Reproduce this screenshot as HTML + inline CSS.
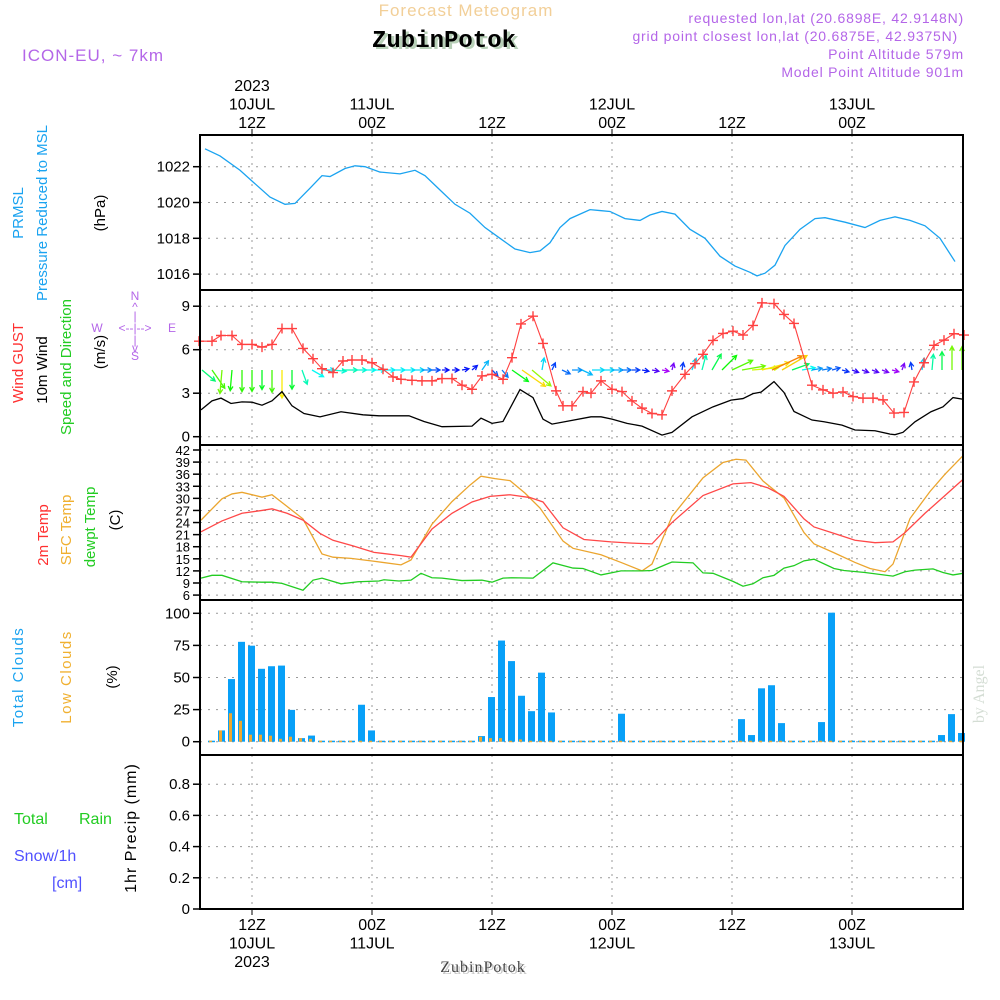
<!DOCTYPE html>
<html><head><meta charset="utf-8"><style>
html,body{margin:0;padding:0;background:#fff;}
svg{display:block;font-family:"Liberation Sans",sans-serif;}
</style></head><body>
<svg id="chart" width="1000" height="1000" viewBox="0 0 1000 1000" xmlns="http://www.w3.org/2000/svg">
<rect x="0" y="0" width="1000" height="1000" fill="#fff"/>
<text x="466" y="16" font-size="17" fill="#f2cf98" text-anchor="middle" letter-spacing="1">Forecast Meteogram</text>
<text x="964" y="23" font-size="14" fill="#b466e8" text-anchor="end" letter-spacing="0.8">requested lon,lat (20.6898E, 42.9148N)</text>
<text x="958" y="41" font-size="14" fill="#b466e8" text-anchor="end" letter-spacing="0.8">grid point closest lon,lat (20.6875E, 42.9375N)</text>
<text x="447" y="49" font-size="24" font-weight="bold" fill="#b8d0b8" text-anchor="middle" font-family="Liberation Mono, monospace">ZubinPotok</text>
<text x="444" y="47" font-size="24" font-weight="bold" fill="#000" text-anchor="middle" font-family="Liberation Mono, monospace">ZubinPotok</text>
<text x="964" y="59" font-size="14" fill="#b466e8" text-anchor="end" letter-spacing="0.8">Point Altitude 579m</text>
<text x="964" y="77" font-size="14" fill="#b466e8" text-anchor="end" letter-spacing="0.8">Model Point Altitude 901m</text>
<text x="22" y="61" font-size="17" fill="#b466e8" letter-spacing="1">ICON-EU, ~ 7km</text>
<text transform="translate(984,694) rotate(-90)" font-size="16" fill="#d4ddd4" text-anchor="middle" font-family="Liberation Serif, serif">by Angel</text>
<text x="485" y="974" font-size="16" fill="#c8c8c8" text-anchor="middle" letter-spacing="1" font-family="Liberation Serif, serif">ZubinPotok</text>
<text x="483" y="972" font-size="16" fill="#444" text-anchor="middle" letter-spacing="1" font-family="Liberation Serif, serif">ZubinPotok</text>

<!-- left labels -->
<text transform="translate(23,213) rotate(-90)" font-size="15" fill="#1aa3f0" text-anchor="middle">PRMSL</text>
<text transform="translate(47,213) rotate(-90)" font-size="15" fill="#1aa3f0" text-anchor="middle">Pressure Reduced to MSL</text>
<text transform="translate(105,213) rotate(-90)" font-size="15" fill="#000" text-anchor="middle">(hPa)</text>
<text transform="translate(23,363) rotate(-90)" font-size="15" fill="#ff3030" text-anchor="middle">Wind GUST</text>
<text transform="translate(47,370) rotate(-90)" font-size="15" fill="#000" text-anchor="middle">10m Wind</text>
<text transform="translate(71,367) rotate(-90)" font-size="15" fill="#22cc22" text-anchor="middle">Speed and Direction</text>
<text transform="translate(105,352) rotate(-90)" font-size="15" fill="#000" text-anchor="middle">(m/s)</text>
<g font-size="12" fill="#b466e8" text-anchor="middle">
<text x="135" y="300">N</text><text x="135" y="311">^</text><text x="135" y="320">|</text>
<text x="97" y="332">W</text><text x="135" y="332">&lt;--|--&gt;</text><text x="172" y="332">E</text>
<text x="135" y="344">|</text><text x="135" y="352">v</text><text x="135" y="360">S</text>
</g>
<text transform="translate(48,535) rotate(-90)" font-size="15" fill="#ff3030" text-anchor="middle">2m Temp</text>
<text transform="translate(71,530) rotate(-90)" font-size="15" fill="#f0b030" text-anchor="middle">SFC Temp</text>
<text transform="translate(95,527) rotate(-90)" font-size="15" fill="#22cc22" text-anchor="middle">dewpt Temp</text>
<text transform="translate(120,520) rotate(-90)" font-size="15" fill="#000" text-anchor="middle">(C)</text>
<text transform="translate(23,677) rotate(-90)" font-size="15" fill="#1aa3f0" text-anchor="middle" letter-spacing="1.5">Total Clouds</text>
<text transform="translate(71,677) rotate(-90)" font-size="15" fill="#f0b030" text-anchor="middle" letter-spacing="1.5">Low Clouds</text>
<text transform="translate(117,677) rotate(-90)" font-size="15" fill="#000" text-anchor="middle">(%)</text>
<text x="14" y="824" font-size="16" fill="#22cc22">Total</text>
<text x="79" y="824" font-size="16" fill="#22cc22">Rain</text>
<text x="14" y="861" font-size="16" fill="#5050ff">Snow/1h</text>
<text x="52" y="888" font-size="16" fill="#5050ff">[cm]</text>
<text transform="translate(136,828) rotate(-90)" font-size="16" fill="#000" text-anchor="middle" letter-spacing="1">1hr Precip (mm)</text>

<g id="plot"></g>
</svg>
<script>
// ---------- data ----------
const presHours=[7.3,8.8,10.8,13.8,15.3,16.3,17.8,19,19.8,21.3,22.3,23.3,24.8,26.8,28.3,29.3,30.8,32.3,33.8,35.3,36.8,38.3,39.8,40.8,41.8,42.8,43.8,45.8,46.8,47.8,49.3,50.8,51.8,53,54.3,55.8,57.3,58.8,60.3,61.8,62.5,63.3,64.3,65.3,66.8,68.3,69.3,71.3,73.3,74.8,76.3,77.8,79.3,80.8,82.3];
const presVals=[1023.0,1022.6,1021.8,1020.3,1019.9,1019.95,1020.8,1021.5,1021.45,1021.9,1022.05,1022.0,1021.7,1021.6,1021.8,1021.5,1020.7,1019.9,1019.4,1018.6,1018.0,1017.4,1017.2,1017.3,1017.75,1018.6,1019.1,1019.6,1019.55,1019.5,1019.1,1019.0,1019.3,1019.5,1019.35,1018.5,1018.0,1017.0,1016.45,1016.1,1015.9,1016.05,1016.5,1017.6,1018.5,1019.1,1019.15,1018.9,1018.6,1019.0,1019.2,1019.0,1018.7,1018.0,1016.7];
const windHours=[6.9,8,8.9,9.9,11,12,13,14,15,16,17.2,18.8,20.9,23.1,24.7,27.7,29.2,31,34,34.9,36,37.1,38.8,40.1,41.1,42,43.4,45.9,46.9,48,49.5,51,53,54,56,58.1,59.9,61.1,62.1,62.9,64.2,65.2,66.2,68,69.2,71,72.3,74.3,75.8,76.3,77.1,78.3,79.9,81.1,82.1,83.1];
const windVals=[1.85,2.47,2.66,2.29,2.4,2.38,2.17,2.47,3.11,2.13,1.6,1.37,1.72,1.51,1.44,1.44,1.05,0.69,0.73,1.28,0.92,1.05,3.25,2.7,1.21,0.87,1.05,1.37,1.37,1.21,0.92,0.73,0.11,0.3,1.37,2.06,2.52,2.63,2.97,3.07,3.8,3.05,1.74,1.15,1.03,0.8,0.46,0.41,0.18,0.14,0.3,1.03,1.72,2.06,2.7,2.58];
const gustHours=[6.7,8,8.9,10,11,12,13,14,15,16,17.1,18.1,19,20.1,21.1,22,23,24,25.1,26.1,26.9,28,29,30,31,32,33,34,35,36,37.1,38,38.9,40.1,41.1,42.4,43.1,44,45.1,45.9,46.9,48,49,50,51,52,53,54,55.3,56.3,57.1,58.1,59.1,60.1,61.1,62.1,63,64.2,65.2,66.2,68,69.1,70.1,71.1,72.1,73.1,74.1,75.1,76.2,77.2,78.2,79.2,80.2,81.2,82.2,83.2];
const gustVals=[6.59,6.59,6.98,6.98,6.36,6.36,6.18,6.36,7.46,7.46,6.09,5.38,4.69,4.42,5.22,5.29,5.29,5.1,4.65,4.12,3.96,3.89,3.85,3.85,4.01,4.01,3.55,3.27,4.19,4.3,3.96,5.45,7.78,8.31,6.43,3.16,2.13,2.13,3.11,3.0,3.85,3.27,3.11,2.47,1.97,1.6,1.51,3.16,4.3,5.04,5.68,6.64,7.12,7.28,7.01,7.67,9.23,9.18,8.43,7.81,3.55,3.23,3.0,3.09,2.77,2.66,2.66,2.54,1.63,1.67,3.78,5.1,6.3,6.66,7.1,7.01];
const arrowHours=[7,8,9,10,11,12,13,14,15,16,17,18,19,20,21,22,23,24,25,26,27,28,29,30,31,32,33,34,35,36,37,38,39,40,41,42,43,44,45,46,47,48,49,50,51,52,53,54,55,56,57,58,59,60,61,62,63,64,65,66,67,68,69,70,71,72,73,74,75,76,77,78,79,80,81,82,83];
const arrowDirs=[-40,-55,-95,-95,-90,-90,-90,-90,-90,-90,-70,-30,0,-5,0,0,0,0,0,0,0,0,0,0,0,0,10,40,55,-45,-50,-35,-35,-40,80,65,-25,0,-25,0,0,0,0,0,-10,-10,-10,75,80,70,75,60,45,25,10,5,15,25,30,20,10,10,10,15,-15,-20,-20,-20,-20,-15,70,100,80,85,90,90,90];
const t2Hours=[6.9,9,11,13,14,15.5,17.1,18.8,20.1,22.1,24.2,26.9,27.9,30,32,34,35.8,37.8,39.8,41.1,43.1,45.2,47.9,50,52,54,57.1,60.1,61.9,63.6,65.2,67.2,68.2,70.2,72.3,74.3,76.1,77.3,79.3,81.3,83.1];
const t2Vals=[21.7,24.4,26.3,27.0,27.4,26.3,24.6,21.3,19.6,18.2,16.6,15.8,15.4,22.4,26.3,29.1,30.5,30.9,30.2,29.1,22.7,19.8,19.2,18.9,18.7,24.0,30.7,33.6,33.9,32.6,30.5,24.9,22.9,21.3,19.6,19.0,19.2,21.5,26.3,30.7,34.7];
const sfcHours=[6.9,9,10,11,13,14,15.5,17.1,19,20.1,21.9,24.2,26.9,27.9,30,32,33.8,34.9,36.3,37.8,39.3,40.8,43.1,44.1,46.9,48.9,51,52,54,57.1,59.1,60.4,61.4,63.1,65.2,67.2,68.2,70.2,72.3,73.8,75.3,76.1,77.8,79.8,81.3,83.1];
const sfcVals=[24.6,29.9,31.1,31.5,30.3,30.9,28.0,24.9,16.2,15.4,15.1,14.4,13.5,14.7,23.6,29.2,33.3,35.5,34.9,34.4,31.3,27.6,19.4,17.6,16.0,14.1,12.0,13.7,25.5,35.1,38.9,39.7,39.5,34.3,30.1,21.5,18.7,16.5,14.1,12.6,11.8,13.7,25.0,31.7,36.0,40.6];
const dewHours=[6.9,8,9,11,13,14,15,17.1,18.1,19,20.9,22.6,24.7,25.2,26.7,27.9,28.9,30,31,33,35,36,37.1,38,40.1,42.1,44.1,45.1,46.9,48.9,51,52,53.3,54,56.1,57.1,58.1,60.1,61.1,62.1,63.1,64.2,65.2,66.2,67.2,68.2,70.2,71.2,73.3,76.1,77.3,78.3,80.1,81.1,82.1,83.1];
const dewVals=[10.2,10.9,10.9,9.3,9.2,9.2,8.9,7.2,9.7,10.2,8.8,9.3,9.5,9.8,9.5,9.7,11.4,10.3,10.2,9.6,9.7,9.2,10.2,10.3,10.2,14.0,12.7,12.6,11.0,12.0,12.0,12.1,13.5,14.2,14.0,11.5,11.4,9.4,8.2,8.8,10.3,10.9,12.7,13.3,14.5,14.9,12.6,12.1,11.6,10.7,11.8,12.2,12.5,11.6,11.0,11.4];
const cloudHours=[7,8,9,10,11,12,13,14,15,16,17,18,19,20,21,22,23,24,25,26,27,28,29,30,31,32,33,34,35,36,37,38,39,40,41,42,43,44,45,46,47,48,49,50,51,52,53,54,55,56,57,58,59,60,61,62,63,64,65,66,67,68,69,70,71,72,73,74,75,76,77,78,79,80,81,82];
const totalClouds=[0,8,48,77,74,56,58,58.5,24,2,4,0,0,0,0,28,8,0,0,0,0,0,0,0,0,0,0,3.6,34,78,62,35,23,53,22,0,0,0,0,0,0,21,0,0,0,0,0,0,0,0,0,0,0,16.8,4.4,40.8,43.2,13.7,0,0,0,14.5,99.7,0,0,0,0,0,0,0,0,0,0,4.4,20.7,6];
const lowClouds=[0,8,21.4,15.5,4.7,4.7,3.9,1.5,3.1,2,1.5,0,0,0,0,0,0,0,0,0,0,0,0,0,0,0,0,3,2,2,0,1,0,0,0,0,0,0,0,0,0,0,0,0,0,0,0,0,0,0,0,0,0,0,0,0,0,0,0,0,0,0,0,0,0,0,0,0,0,0,0,0,0,0,0,0];
const presTicks=[1016,1018,1020,1022];
const windTicks=[0,3,6,9];
const tempTicks=[6,9,12,15,18,21,24,27,30,33,36,39,42];
const cloudTicks=[0,25,50,75,100];
const precipTicks=[0,0.2,0.4,0.6,0.8];
const timeTicks=[12,24,36,48,60,72];
const timeTopLabels=[["2023","10JUL","12Z"],["","11JUL","00Z"],["","","12Z"],["","12JUL","00Z"],["","","12Z"],["","13JUL","00Z"]];
const timeBotLabels=[["12Z","10JUL","2023"],["00Z","11JUL",""],["12Z","",""],["00Z","12JUL",""],["12Z","",""],["00Z","13JUL",""]];

// ---------- axes ----------
const X0=200, X1=963;
const xs=h=>252+(h-12)*10.0;
const yP=v=>166.7+(1022-v)*17.9;
const yW=v=>436.7-v*14.5;
const yT=v=>450+(42-v)*4.03;
const yC=v=>741.7-v*1.284;
const yR=v=>909-v*156;
const panels=[[135,290],[290,445],[445,600],[600,755],[755,909]];

const NS="http://www.w3.org/2000/svg";
const plot=document.getElementById('plot');
function mk(tag,attrs,parent){const e=document.createElementNS(NS,tag);for(const k in attrs)e.setAttribute(k,attrs[k]);(parent||plot).appendChild(e);return e;}
function interp(hs,vs,h){if(h<=hs[0])return vs[0];for(let i=1;i<hs.length;i++){if(h<=hs[i]){const t=(h-hs[i-1])/(hs[i]-hs[i-1]);return vs[i-1]+t*(vs[i]-vs[i-1]);}}return vs[vs.length-1];}

// grid
const grid=mk('g',{});


panels.forEach(p=>{timeTicks.forEach(h=>{const l=mk('line',{x1:xs(h),x2:xs(h),y1:p[0],y2:p[1],stroke:'#999','stroke-dasharray':'2,5','stroke-width':1},grid);

});});
function hgrid(ticks,yf,fmt,fs,name){ticks.forEach(t=>{const y=yf(t);
const l=mk('line',{x1:X0,x2:X1,y1:y,y2:y,stroke:'#999','stroke-dasharray':'2,6','stroke-width':1},grid);


const tk=mk('line',{x1:193,x2:X0,y1:y,y2:y,stroke:'#000','stroke-width':1.5});


const tx=mk('text',{x:190,y:y+5,'font-size':fs,'text-anchor':'end',fill:'#000'});
tx.textContent=fmt(t);

});}
hgrid(presTicks,yP,t=>t,15,'pressure');
hgrid(windTicks,yW,t=>t,15,'wind');
hgrid(tempTicks,yT,t=>t,13,'temp');
hgrid(cloudTicks,yC,t=>t,15,'cloud');
hgrid(precipTicks,yR,t=>t===0?'0':t.toFixed(1),15,'precip');

// time labels
timeTicks.forEach((h,i)=>{const x=xs(h);
const tt=mk('line',{x1:x,x2:x,y1:129,y2:135,stroke:'#000'});


const bt=mk('line',{x1:x,x2:x,y1:909,y2:915,stroke:'#000'});


timeTopLabels[i].forEach((s,j)=>{if(!s)return;const t=mk('text',{x:x,y:91+j*18.5,'font-size':16,'text-anchor':'middle',fill:'#000'});t.textContent=s;

});
timeBotLabels[i].forEach((s,j)=>{if(!s)return;const t=mk('text',{x:x,y:930+j*18.5,'font-size':16,'text-anchor':'middle',fill:'#000'});t.textContent=s;

});});

// pressure
const pl=mk('polyline',{points:presHours.map((h,i)=>xs(h)+','+yP(presVals[i])).join(' '),fill:'none',stroke:'#1aa3f0','stroke-width':1.3});



// wind arrows
const ag=mk('g',{});


arrowHours.forEach((h,i)=>{const sp=interp(windHours,windVals,h);const len=Math.max(7,sp*9);const a=arrowDirs[i]*Math.PI/180;
const x0=xs(h),y0=yW(4.6);const x1=x0+len*Math.cos(a),y1=y0-len*Math.sin(a);
const hue=Math.max(30,Math.min(280,290-75*sp));const col='hsl('+hue+',95%,50%)';
const ang=Math.atan2(y1-y0,x1-x0);const hl=5;
const d='M'+x0+','+y0+'L'+x1+','+y1+'M'+(x1-hl*Math.cos(ang-0.5))+','+(y1-hl*Math.sin(ang-0.5))+'L'+x1+','+y1+'L'+(x1-hl*Math.cos(ang+0.5))+','+(y1-hl*Math.sin(ang+0.5));
const p=mk('path',{d:d,stroke:col,'stroke-width':1.3,fill:'none'},ag);

});

// 10m wind
const wl=mk('polyline',{points:windHours.map((h,i)=>xs(h)+','+yW(windVals[i])).join(' '),fill:'none',stroke:'#000','stroke-width':1.3});


// gust
const gl=mk('polyline',{points:gustHours.map((h,i)=>xs(h)+','+yW(gustVals[i])).join(' '),fill:'none',stroke:'#ff4040','stroke-width':1.1});


gustHours.forEach((h,i)=>{const x=xs(h),y=yW(gustVals[i]);
const m=mk('path',{d:'M'+(x-5)+','+y+'H'+(x+5)+'M'+x+','+(y-5)+'V'+(y+5),stroke:'#ff4040','stroke-width':1.4});

});

// temps
[[sfcHours,sfcVals,'#eba52e','sfc-temp-line'],[t2Hours,t2Vals,'#ff4848','temp-2m-line'],[dewHours,dewVals,'#22cc22','dewpoint-line']].forEach(s=>{
const l=mk('polyline',{points:s[0].map((h,i)=>xs(h)+','+yT(s[1][i])).join(' '),fill:'none',stroke:s[2],'stroke-width':1.3});

});

// clouds
cloudHours.forEach((h,i)=>{const x=xs(h)+6;
const tv=totalClouds[i],lv=lowClouds[i];
const b=mk('rect',{x:x,y:yC(tv)-1,width:7,height:Math.max(1.5,yC(0)-yC(tv)+1),fill:'#08a0f8'});


const o=mk('rect',{x:x+1,y:yC(lv)-1,width:3,height:Math.max(1.5,yC(0)-yC(lv)+1),fill:'#eca830'});

});

// precip baseline
const pb=mk('line',{x1:X0,x2:X1,y1:yR(0),y2:yR(0),stroke:'#000','stroke-width':2,'stroke-dasharray':'4,2'});



// frames
panels.forEach((p,i)=>{const r=mk('rect',{x:X0,y:p[0],width:X1-X0,height:p[1]-p[0],fill:'none',stroke:'#000','stroke-width':2});

});
</script>
</body></html>
